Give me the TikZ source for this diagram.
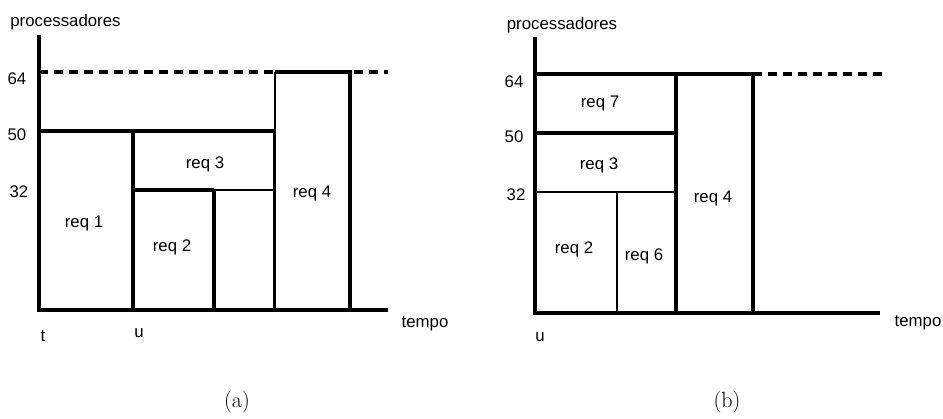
\documentclass[tikz,border=0pt]{standalone}
\usepackage{fontspec}
\newfontfamily\labelfont{Liberation Sans}
\begin{document}
\begin{tikzpicture}[x=1pt,y=-1pt,
  heavy/.style={line width=3.2pt},
  light/.style={line width=2.7pt},
  limit/.style={line width=3.1pt,dash pattern=on 9pt off 6pt},
  lbl/.style={font=\labelfont\fontsize{16.8}{20}\selectfont,inner sep=0pt},
  subcap/.style={font=\fontsize{22}{26}\selectfont,inner sep=0pt}]
\useasboundingbox (0,0) rectangle (943,418);

% ---------- (a) ----------
\node[lbl] (pa) at (65.5,22) {processadores};
\node[lbl] (a64) at (17,79) {64};
\node[lbl] (a50) at (17,135) {50};
\node[lbl] (a32) at (19,192) {32};
\node[lbl] (ta) at (425,324) {tempo};
\node[lbl] (at) at (43,336) {t};
\node[lbl] (au) at (139,333) {u};

\draw[limit] (39,72) -- (388,72);
\draw[heavy] (39,35) -- (39,310) -- (388,310);
% req 1
\draw[heavy] (39,131) rectangle (133,310);
% req 3
\draw[heavy] (133,131) -- (274,131);
\draw[light] (274,131) -- (274,310);
\draw[heavy] (133,190) -- (214,190);
\draw[light] (214,190) -- (274,190);
% req 2
\draw[heavy] (133,190) -- (133,310);
\draw[heavy] (214,190) -- (214,310);
% req 4
\draw[heavy] (275,72) -- (350,72) -- (350,310);
\draw[light] (275,72) -- (275,310);

\node[lbl] (r1a) at (84,223) {req 1};
\node[lbl] (r3a) at (205,164) {req 3};
\node[lbl] (r2a) at (172,247) {req 2};
\node[lbl] (r4a) at (312,193) {req 4};

\node[subcap] (capa) at (237,402) {(a)};

% ---------- (b) ----------
\node[lbl] (pb) at (562,25) {processadores};
\node[lbl] (b64) at (514,82) {64};
\node[lbl] (b50) at (514,137) {50};
\node[lbl] (b32) at (516,195) {32};
\node[lbl] (tb) at (918,323) {tempo};
\node[lbl] (bu) at (540,337) {u};

\draw[limit] (753,74) -- (883,74);
\draw[heavy] (535,37) -- (535,313) -- (880,313);
% req 7
\draw[heavy] (535,74) -- (753,74);
\draw[heavy] (535,133) -- (676,133);
% req 3
\draw[light] (535,192) -- (676,192);
% req 2 / req 6
\draw[light] (617,192) -- (617,313);
% req 4
\draw[heavy] (676,74) -- (676,313);
\draw[heavy] (753,74) -- (753,313);

\node[lbl] (r7b) at (600,103) {req 7};
\node[lbl] (r3b) at (599,165) {req 3};
\node[lbl] (r2b) at (574,249) {req 2};
\node[lbl] (r6b) at (644,256) {req 6};
\node[lbl] (r4b) at (713,198) {req 4};

\node[subcap] (capb) at (727,402) {(b)};
\end{tikzpicture}
\end{document}
